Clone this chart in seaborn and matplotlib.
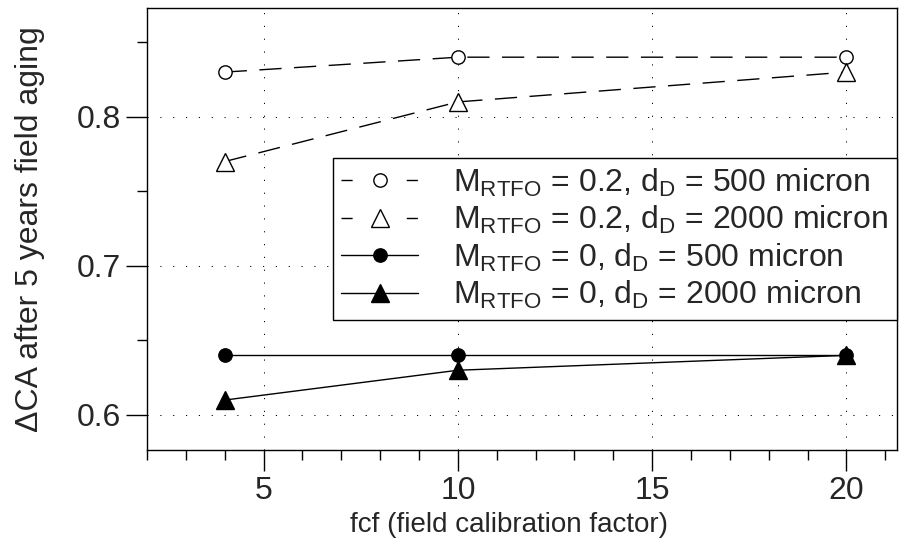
import matplotlib
matplotlib.use("Agg")
import matplotlib.pyplot as plt
from matplotlib.ticker import MultipleLocator, FormatStrFormatter
from matplotlib.lines import Line2D
import seaborn as sns
import pandas as pd

fcf = [4, 10, 20]
s_open_circle = [0.83, 0.84, 0.84]
s_open_tri = [0.77, 0.81, 0.83]
s_fill_circle = [0.64, 0.64, 0.64]
s_fill_tri = [0.61, 0.63, 0.64]
labels = [
    r"M$_\mathrm{RTFO}$ = 0.2, d$_\mathrm{D}$ = 500 micron",
    r"M$_\mathrm{RTFO}$ = 0.2, d$_\mathrm{D}$ = 2000 micron",
    r"M$_\mathrm{RTFO}$ = 0, d$_\mathrm{D}$ = 500 micron",
    r"M$_\mathrm{RTFO}$ = 0, d$_\mathrm{D}$ = 2000 micron",
]
xlabel = "fcf (field calibration factor)"
ylabel = "ΔCA after 5 years field aging"

sns.set_style("ticks")
plt.rcParams["font.family"] = ["Liberation Sans", "DejaVu Sans"]
plt.rcParams["mathtext.fontset"] = "custom"
plt.rcParams["mathtext.rm"] = "Liberation Sans"
plt.rcParams["mathtext.it"] = "Liberation Sans:italic"

fig = plt.figure(figsize=(9.07, 5.48), dpi=100)
ax = fig.add_axes([147/907, 1-450/548, 750/907, 442/548])

series = [s_open_circle, s_open_tri, s_fill_circle, s_fill_tri]
styles = [
    dict(marker="o", ms=9.6, mfc="white", dash=(0, (16, 9)), ldash=(0, (8, 39))),
    dict(marker="^", ms=12.5, mfc="white", dash=(0, (16, 9)), ldash=(0, (8, 39))),
    dict(marker="o", ms=9.6, mfc="black", dash="-", ldash="-"),
    dict(marker="^", ms=12.5, mfc="black", dash="-", ldash="-"),
]
handles = []
for vals, lab, st in zip(series, labels, styles):
    df = pd.DataFrame({"fcf": fcf, "val": vals})
    n0 = len(ax.lines)
    sns.lineplot(data=df, x="fcf", y="val", ax=ax, color="black",
                 marker=st["marker"], markersize=st["ms"],
                 markerfacecolor=st["mfc"], markeredgecolor="black",
                 markeredgewidth=1.0, linewidth=1.0, label=lab, legend=False)
    ax.lines[n0].set_linestyle(st["dash"])
    handles.append(Line2D([], [], color="black", linewidth=1.0,
                          linestyle=st["ldash"], marker=st["marker"],
                          markersize=st["ms"], markerfacecolor=st["mfc"],
                          markeredgecolor="black", markeredgewidth=1.0))

ax.set_xlim(2, 21.3)
ax.set_ylim(0.5765, 0.873)
ax.xaxis.set_major_locator(MultipleLocator(5))
ax.xaxis.set_minor_locator(MultipleLocator(1))
ax.yaxis.set_major_locator(MultipleLocator(0.1))
ax.yaxis.set_minor_locator(MultipleLocator(0.05))
ax.yaxis.set_major_formatter(FormatStrFormatter("%.1f"))

ax.grid(True, which="major", color="black", linestyle=(0, (1.2, 12)), linewidth=0.7)
ax.tick_params(which="major", length=15, width=1.0, labelsize=23, color="black", pad=4)
ax.tick_params(which="minor", length=7.5, width=1.0, color="black")
for sp in ax.spines.values():
    sp.set_visible(True)
    sp.set_color("black")
    sp.set_linewidth(1.0)

ax.set_xlabel(xlabel, fontsize=20)
ax.set_ylabel(ylabel, fontsize=23)
ax.xaxis.set_label_coords(0.483, -0.140)
ax.yaxis.set_label_coords(-0.136, 0.5)

leg = ax.legend(handles=handles, labels=labels, loc="upper right",
                bbox_to_anchor=(1.0, 0.661), borderaxespad=0, fontsize=23,
                frameon=True, fancybox=False, edgecolor="black",
                handlelength=2.4, handletextpad=1.1, labelspacing=0.17,
                borderpad=0.27, numpoints=1)
leg.get_frame().set_linewidth(1.0)
leg.get_frame().set_alpha(1)

fig.savefig("out.png", dpi=100)
